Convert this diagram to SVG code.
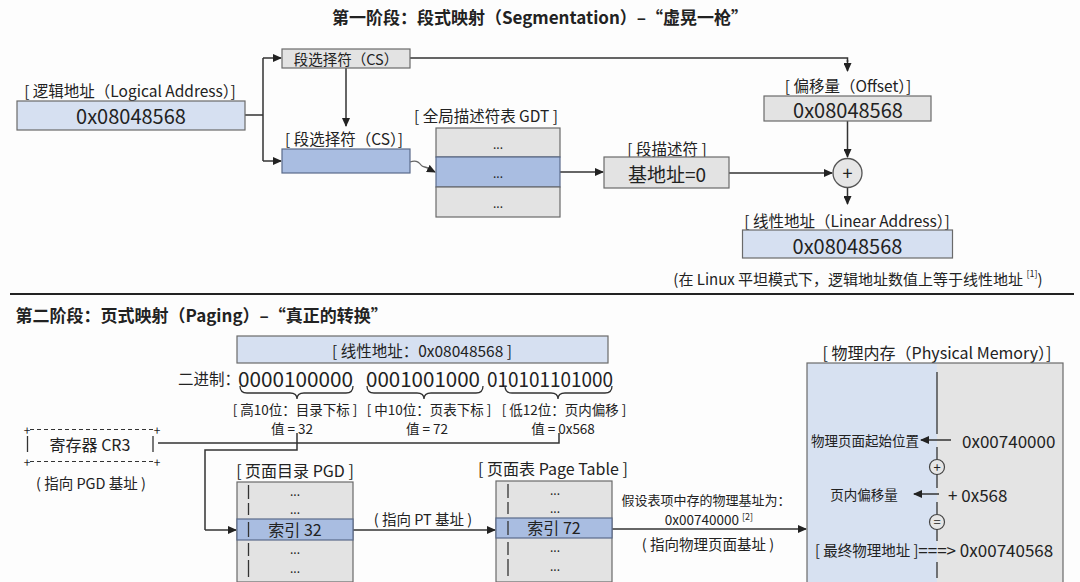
<svg xmlns="http://www.w3.org/2000/svg" width="1080" height="582" viewBox="0 0 1080 582">
<defs>
<style>
text{font-family:"Noto Sans CJK SC","Noto Sans",sans-serif;fill:#222;dominant-baseline:central}
.m{text-anchor:middle}
.e{text-anchor:end}
.ttl{font-size:17px;font-weight:bold}
.lbl{font-size:15.5px}
.sm{font-size:13.5px}
.big{font-size:20px}
.dots{font-size:12px;text-anchor:middle}
.gray{fill:#e3e3e3;stroke:#6a6a6a;stroke-width:1.2}
.lb{fill:#d6e0f1;stroke:#6a6a6a;stroke-width:1.2}
.mb{fill:#a9bde1;stroke:#5a6a8a;stroke-width:1.2}
.ln{stroke:#333;stroke-width:1.5;fill:none}
.ar{stroke:#333;stroke-width:1.5;fill:none;marker-end:url(#ah)}
.bar{stroke:#333;stroke-width:1.3}
.br{stroke:#333;stroke-width:1.3;fill:none}
</style>
<marker id="ah" markerUnits="userSpaceOnUse" markerWidth="9" markerHeight="8" refX="8" refY="4" orient="auto">
<path d="M0,0 L9,4 L0,8 z" fill="#222"/>
</marker>
</defs>
<rect width="1080" height="582" fill="#fdfdfd"/>

<text class="ttl m" x="540" y="16">第一阶段：段式映射（Segmentation）–“虚晃一枪”</text>

<g id="connectors">
<path class="ln" d="M245,115 H263 M263,58 V161"/>
<path class="ar" d="M263,58 H281"/>
<path class="ar" d="M263,161 H281"/>
<path class="ln" d="M410,58 H847.5 V62"/>
<path class="ar" d="M847.5,60 V71"/>
<path class="ar" d="M346,68 V126"/>
<path d="M410,162 C415,160 419,162 421,165 C423,168 426,166 429,169 L435,172" stroke="#666" stroke-width="1.3" fill="none" marker-end="url(#ah)"/>
<path class="ar" d="M560,172 H603"/>
<path class="ar" d="M729,173 H832"/>
<path class="ar" d="M847.5,121 V157"/>
<path class="ar" d="M847.5,188 V204"/>
<path class="ln" d="M158,443 H559 V433"/>
<path class="ln" d="M297,433 V450 H205 V530"/>
<path class="ar" d="M205,530 H236"/>
<path class="ar" d="M353,530 H495"/>
<path class="ar" d="M612,529 H806"/>
</g>

<g id="logical">
<text class="lbl m" x="130" y="90" font-size="16">[ 逻辑地址（Logical Address）]</text>
<rect class="lb" x="17" y="101" width="228" height="29"/>
<text class="big m" x="131" y="115.5">0x08048568</text>
</g>

<g id="cs-top">
<rect class="gray" x="282" y="49" width="128" height="19"/>
<text class="m" x="346" y="58.5" font-size="14.5">段选择符（CS）</text>
</g>

<g id="cs-reg">
<text class="lbl m" x="344" y="138">[ 段选择符（CS）]</text>
<rect class="mb" x="282" y="149" width="128" height="24"/>
</g>

<g id="gdt">
<text class="lbl m" x="486" y="115">[ 全局描述符表 GDT ]</text>
<rect class="gray" x="436" y="128" width="124" height="29"/>
<rect class="mb" x="436" y="157" width="124" height="30"/>
<rect class="gray" x="436" y="187" width="124" height="30"/>
<text class="dots" x="498" y="143">...</text>
<text class="dots" x="498" y="172">...</text>
<text class="dots" x="498" y="202">...</text>
</g>

<g id="descriptor">
<text class="lbl m" x="667" y="148">[ 段描述符 ]</text>
<rect class="gray" x="604" y="157" width="125" height="31"/>
<text class="m" x="667" y="173" font-size="19">基地址=0</text>
</g>

<g id="offset">
<text class="lbl m" x="848" y="85">[ 偏移量（Offset）]</text>
<rect class="gray" x="764" y="96" width="167" height="25"/>
<text class="big m" x="848" y="109">0x08048568</text>
</g>

<g id="plus">
<circle cx="847.5" cy="173" r="14.5" fill="#e6e6e6" stroke="#555" stroke-width="1.3"/>
<text class="m" x="847.5" y="172" font-size="18">+</text>
</g>

<g id="linear">
<text class="lbl m" x="847" y="220" font-size="16">[ 线性地址（Linear Address）]</text>
<rect class="lb" x="742.5" y="230" width="210" height="28"/>
<text class="big m" x="847.5" y="245">0x08048568</text>
<text class="m" x="858" y="278" font-size="15">(在 Linux 平坦模式下，逻辑地址数值上等于线性地址 <tspan font-size="9" dy="-5">[1]</tspan><tspan dy="5">)</tspan></text>
</g>

<line x1="10" y1="294" x2="1074" y2="294" stroke="#222" stroke-width="2"/>

<text class="ttl" x="15.5" y="314">第二阶段：页式映射（Paging）–“真正的转换”</text>

<g id="linear2">
<rect class="lb" x="237" y="336" width="371" height="27"/>
<text class="m" x="422" y="350" font-size="15.5">[ 线性地址：0x08048568 ]</text>
<text class="lbl" x="178" y="378">二进制：</text>
<text class="big" x="238" y="378" textLength="115" lengthAdjust="spacingAndGlyphs">0000100000</text>
<text class="big" x="366" y="378" textLength="114" lengthAdjust="spacingAndGlyphs">0001001000</text>
<text class="big" x="487" y="378" textLength="126" lengthAdjust="spacingAndGlyphs">010101101000</text>
<path class="br" d="M240,386 Q240,393 247,393 H290 Q297,393 297,399 Q297,393 304,393 H346 Q353,393 353,386"/>
<path class="br" d="M367,386 Q367,393 374,393 H417 Q424,393 424,399 Q424,393 431,393 H476 Q483,393 483,386"/>
<path class="br" d="M505,386 Q505,393 512,393 H551 Q558,393 558,399 Q558,393 565,393 H605 Q612,393 612,386"/>
<text class="sm m" x="295" y="409">[ 高10位：目录下标 ]</text>
<text class="sm m" x="429" y="409">[ 中10位：页表下标 ]</text>
<text class="sm m" x="564" y="409">[ 低12位：页内偏移 ]</text>
<text class="sm m" x="292" y="428">值 = 32</text>
<text class="sm m" x="427" y="428">值 = 72</text>
<text class="sm m" x="563" y="428">值 = 0x568</text>
</g>

<g id="cr3">
<line x1="30" y1="429.5" x2="154" y2="429.5" stroke="#333" stroke-width="1.1" stroke-dasharray="4 3"/>
<line x1="30" y1="461.5" x2="154" y2="461.5" stroke="#333" stroke-width="1.1" stroke-dasharray="4 3"/>
<text class="m" x="27" y="429" font-size="12">+</text>
<text class="m" x="157" y="429" font-size="12">+</text>
<text class="m" x="27" y="461" font-size="12">+</text>
<text class="m" x="157" y="461" font-size="12">+</text>
<line class="bar" x1="27.5" y1="436" x2="27.5" y2="452"/>
<line class="bar" x1="153" y1="436" x2="153" y2="452"/>
<text class="m" x="90" y="444" font-size="16">寄存器 CR3</text>
<text class="m" x="91" y="482" font-size="14.5">( 指向 PGD 基址 )</text>
</g>

<g id="pgd">
<text class="m" x="295" y="470" font-size="16">[ 页面目录 PGD ]</text>
<rect class="gray" x="237" y="482" width="116" height="100"/>
<rect class="mb" x="237" y="519" width="116" height="21"/>
<line class="bar" x1="248.5" y1="485" x2="248.5" y2="499"/>
<line class="bar" x1="248.5" y1="503" x2="248.5" y2="515"/>
<line class="bar" x1="248.5" y1="522" x2="248.5" y2="537"/>
<line class="bar" x1="248.5" y1="543" x2="248.5" y2="556"/>
<line class="bar" x1="248.5" y1="560" x2="248.5" y2="577"/>
<text class="dots" x="295" y="490">...</text>
<text class="dots" x="295" y="508">...</text>
<text class="m" x="295" y="529" font-size="16">索引 32</text>
<text class="dots" x="295" y="548">...</text>
<text class="dots" x="295" y="567">...</text>
<text class="m" x="423" y="518" font-size="14.5">( 指向 PT 基址 )</text>
</g>

<g id="pt">
<text class="m" x="553" y="468" font-size="16">[ 页面表 Page Table ]</text>
<rect class="gray" x="496" y="481" width="116" height="101"/>
<rect class="mb" x="496" y="518" width="116" height="20"/>
<line class="bar" x1="508" y1="484" x2="508" y2="498"/>
<line class="bar" x1="508" y1="502" x2="508" y2="514"/>
<line class="bar" x1="508" y1="521" x2="508" y2="535"/>
<line class="bar" x1="508" y1="542" x2="508" y2="555"/>
<line class="bar" x1="508" y1="559" x2="508" y2="576"/>
<text class="dots" x="555" y="489">...</text>
<text class="dots" x="555" y="507">...</text>
<text class="m" x="554" y="527" font-size="16">索引 72</text>
<text class="dots" x="555" y="546">...</text>
<text class="dots" x="555" y="565">...</text>
<text class="m" x="706" y="499" font-size="13">假设表项中存的物理基址为：</text>
<text class="m" x="709" y="519" font-size="13.5">0x00740000 <tspan font-size="9" dy="-3">[2]</tspan></text>
<text class="m" x="708" y="543" font-size="14.5">( 指向物理页面基址 )</text>
</g>

<g id="memory">
<text class="m" x="937" y="352" font-size="16">[ 物理内存（Physical Memory）]</text>
<rect x="807" y="363" width="130" height="222" fill="#d7e1f1"/>
<rect x="937" y="363" width="126" height="222" fill="#e4e4e4"/>
<rect x="807" y="363" width="256" height="222" fill="none" stroke="#6a6a6a" stroke-width="1.2"/>
<line class="bar" x1="937" y1="372" x2="937" y2="434"/>
<text class="sm e" x="919" y="440">物理页面起始位置</text>
<path class="ar" d="M951,440 H921"/>
<text x="962" y="440" font-size="17">0x00740000</text>
<line class="bar" x1="937" y1="447" x2="937" y2="459.5"/>
<circle cx="937" cy="467" r="7.5" fill="#e6e6e6" stroke="#444" stroke-width="1.2"/>
<text class="m" x="937" y="466" font-size="13">+</text>
<line class="bar" x1="937" y1="474.5" x2="937" y2="488"/>
<text class="sm m" x="864" y="494">页内偏移量</text>
<path class="ar" d="M939,494 H914"/>
<text x="948" y="494" font-size="17">+ 0x568</text>
<line class="bar" x1="937" y1="502" x2="937" y2="514.5"/>
<circle cx="937" cy="522" r="7.5" fill="#e6e6e6" stroke="#444" stroke-width="1.2"/>
<text class="m" x="937" y="521" font-size="13">=</text>
<line class="bar" x1="937" y1="529.5" x2="937" y2="541"/>
<text x="815" y="549" font-size="14.5">[ 最终物理地址 ]<tspan font-size="17">===&gt; 0x00740568</tspan></text>
<line class="bar" x1="937" y1="562" x2="937" y2="578"/>
</g>
</svg>
